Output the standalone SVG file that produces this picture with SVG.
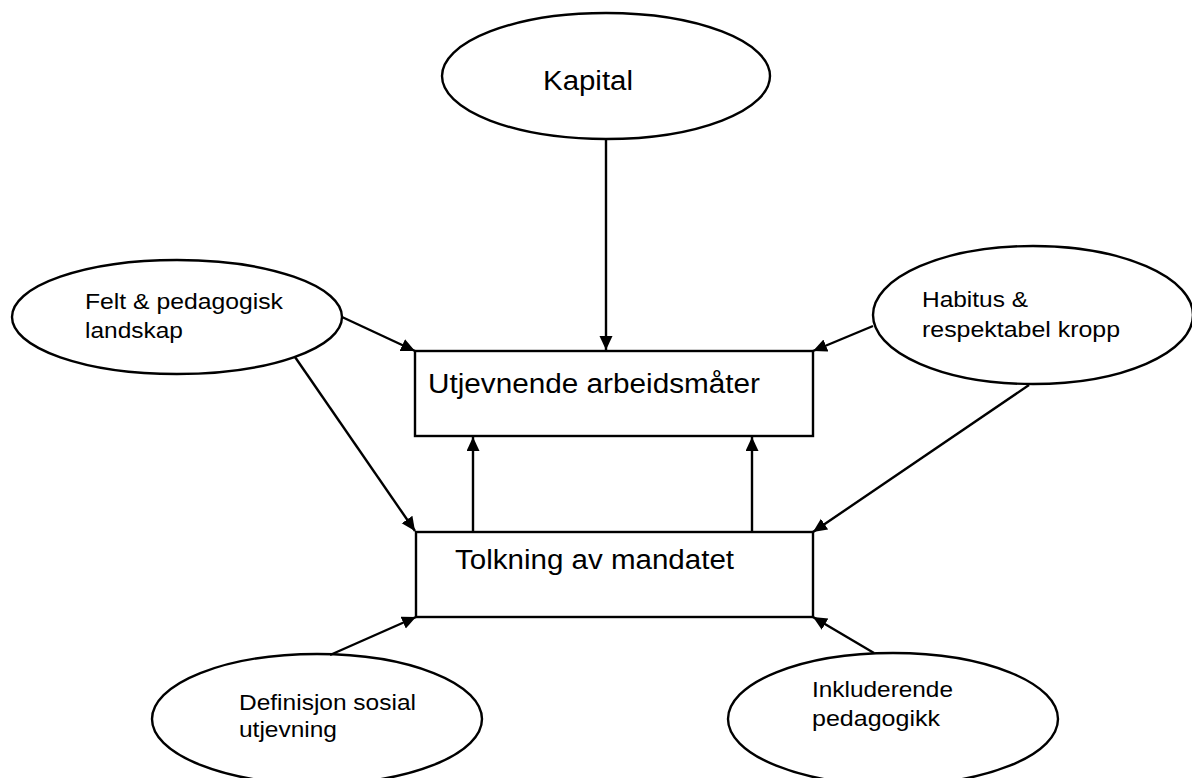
<svg xmlns="http://www.w3.org/2000/svg" width="1192" height="778" viewBox="0 0 1192 778">
<style>
.node ellipse,.node rect{fill:#fff;stroke:#000;stroke-width:2.4}
text{font-family:"Liberation Sans",Arial,sans-serif;fill:#000}
.s{font-size:22.5px}
.b{font-size:27px}
.c line{stroke:#000;stroke-width:2.4;marker-end:url(#ah)}
</style>
<defs>
<marker id="ah" markerUnits="userSpaceOnUse" markerWidth="16" markerHeight="14" refX="14" refY="6.5" orient="auto">
<path d="M0,0 L14,6.5 L0,13 Z" fill="#000"/>
</marker>
</defs>
<g id="kapital" class="node">
<ellipse cx="606" cy="76" rx="164" ry="63"/>
<text class="b" x="543" y="90" textLength="90" lengthAdjust="spacingAndGlyphs">Kapital</text>
</g>
<g id="felt" class="node">
<ellipse cx="177" cy="317" rx="165" ry="57"/>
<text class="s" x="85" y="309" textLength="198" lengthAdjust="spacingAndGlyphs">Felt &amp; pedagogisk</text>
<text class="s" x="85" y="338" textLength="98" lengthAdjust="spacingAndGlyphs">landskap</text>
</g>
<g id="habitus" class="node">
<ellipse cx="1033" cy="315" rx="160" ry="69"/>
<text class="s" x="922" y="307" textLength="106" lengthAdjust="spacingAndGlyphs">Habitus &amp;</text>
<text class="s" x="922" y="337" textLength="198" lengthAdjust="spacingAndGlyphs">respektabel kropp</text>
</g>
<g id="utjevnende" class="node">
<rect x="415" y="351" width="398" height="85"/>
<text class="b" x="428" y="393" textLength="332" lengthAdjust="spacingAndGlyphs">Utjevnende arbeidsmåter</text>
</g>
<g id="tolkning" class="node">
<rect x="416" y="532" width="397" height="85"/>
<text class="b" x="455" y="569" textLength="279" lengthAdjust="spacingAndGlyphs">Tolkning av mandatet</text>
</g>
<g id="definisjon" class="node">
<ellipse cx="317" cy="719" rx="165" ry="65"/>
<text class="s" x="239" y="710" textLength="177" lengthAdjust="spacingAndGlyphs">Definisjon sosial</text>
<text class="s" x="239" y="737" textLength="98" lengthAdjust="spacingAndGlyphs">utjevning</text>
</g>
<g id="inkluderende" class="node">
<ellipse cx="893" cy="719" rx="165" ry="66"/>
<text class="s" x="812" y="697" textLength="141" lengthAdjust="spacingAndGlyphs">Inkluderende</text>
<text class="s" x="812" y="726" textLength="128" lengthAdjust="spacingAndGlyphs">pedagogikk</text>
</g>
<g id="connectors" class="c">
<line x1="606" y1="139" x2="606" y2="350"/>
<line x1="342" y1="317" x2="415" y2="351"/>
<line x1="295" y1="357" x2="415" y2="531"/>
<line x1="873" y1="326" x2="813" y2="351"/>
<line x1="1029" y1="385" x2="813" y2="532"/>
<line x1="473" y1="532" x2="473" y2="437"/>
<line x1="752" y1="532" x2="752" y2="437"/>
<line x1="330" y1="655" x2="416" y2="617"/>
<line x1="874" y1="653" x2="813" y2="617"/>
</g>
</svg>
